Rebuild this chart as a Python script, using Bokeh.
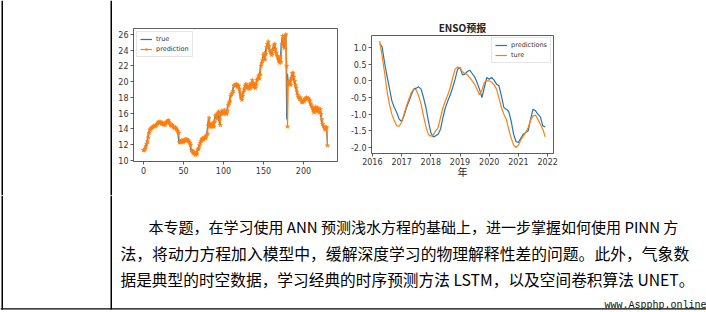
from bokeh.plotting import figure
from bokeh.models import Range1d, Legend, LegendItem, FixedTicker, PrintfTickFormatter
from bokeh.layouts import column, row
from bokeh.core.properties import value
from bokeh.embed import file_html
from bokeh.resources import INLINE

# ---------------- data: left chart (true vs prediction) ----------------
true_vals = [
    11.2, 11.4, 11.7, 12.0, 12.3, 12.8, 13.4, 13.8, 13.9, 14.0,
    14.1, 14.2, 14.3, 14.2, 14.3, 14.4, 14.5, 14.7, 14.8, 14.7,
    14.8, 14.7, 14.6, 14.7, 14.5, 14.6, 14.4, 14.6, 14.8, 14.9,
    15.0, 14.9, 14.7, 14.5, 14.4, 14.5, 14.3, 14.2, 14.1, 14.2,
    14.0, 13.9, 13.7, 13.5, 12.4, 12.3, 12.4, 12.5, 12.4, 12.3,
    12.5, 12.6, 12.5, 12.7, 12.6, 12.5, 12.4, 12.2, 12.0, 11.4,
    11.2, 11.0, 11.1, 10.9, 10.8, 10.9, 10.8, 11.3, 11.4, 11.8,
    12.1, 12.4, 12.6, 12.7, 12.6, 12.8, 12.9, 12.8, 13.1, 13.3,
    14.2, 15.2, 14.8, 14.4, 14.3, 14.6, 14.5, 14.3, 14.8, 15.5,
    15.7, 15.4, 15.9, 16.1, 15.3, 14.6, 15.8, 16.2, 16.0, 15.9,
    16.3, 16.1, 16.0, 15.9, 16.2, 16.9, 17.2, 17.4, 18.0, 18.3,
    18.5, 18.7, 19.3, 19.5, 19.4, 19.6, 19.5, 19.3, 19.4, 19.1,
    18.6, 18.0, 17.8, 18.1, 18.6, 18.9, 19.3, 19.5, 19.2, 19.4,
    19.3, 19.1, 19.5, 19.2, 19.6, 20.0, 19.8, 19.4, 19.6, 19.2,
    19.5, 20.0, 20.3, 20.6, 20.4, 20.8, 21.8, 22.3, 22.6, 23.2,
    23.5, 22.9, 23.4, 24.2, 24.6, 24.9, 24.5, 24.1, 23.8, 23.5,
    23.6, 24.0, 24.4, 24.6, 24.2, 23.8, 23.4, 23.2, 22.8, 22.5,
    23.0, 22.6, 24.5, 25.5, 25.2, 24.4, 25.6, 25.9, 26.0, 15.2,
    21.0, 19.8, 20.1, 19.7, 20.3, 20.9, 21.0, 20.6, 20.2, 19.7,
    19.3, 18.8, 18.4, 18.1, 17.9, 18.0, 17.7, 17.5, 17.4, 17.6,
    17.5, 17.7, 17.8, 17.9, 17.8, 17.9, 17.7, 17.6, 17.3, 17.1,
    16.8, 16.5, 16.2, 16.4, 16.7, 16.5, 16.3, 16.6, 16.4, 16.2,
    16.4, 16.0, 15.4, 14.8, 14.5, 14.2, 14.0, 14.1, 13.9, 14.1,
    11.9,
]
pred_vals = [
    11.3, 11.3, 11.5, 11.8, 12.1, 12.4, 12.9, 13.5, 13.9, 14.0,
    14.1, 14.2, 14.3, 14.4, 14.3, 14.4, 14.5, 14.6, 14.8, 14.9,
    14.8, 14.9, 14.8, 14.6, 14.8, 14.6, 14.7, 14.5, 14.7, 14.9,
    15.0, 15.1, 14.9, 14.7, 14.5, 14.4, 14.5, 14.3, 14.2, 14.1,
    14.2, 14.0, 13.9, 13.7, 13.5, 12.3, 12.3, 12.4, 12.6, 12.4,
    12.3, 12.5, 12.7, 12.5, 12.7, 12.6, 12.5, 12.4, 12.2, 12.0,
    11.3, 11.2, 10.9, 11.1, 10.9, 10.7, 10.9, 10.8, 11.4, 11.5,
    11.9, 12.2, 12.5, 12.7, 12.8, 12.6, 12.9, 13.0, 12.8, 13.2,
    13.4, 14.4, 15.4, 14.7, 14.3, 14.3, 14.7, 14.4, 14.3, 14.9,
    15.7, 15.8, 15.3, 16.0, 16.2, 15.2, 14.5, 15.9, 16.3, 16.0,
    15.9, 16.4, 16.1, 16.0, 15.9, 16.3, 17.0, 17.3, 17.5, 18.2,
    18.4, 18.6, 18.8, 19.5, 19.6, 19.5, 19.7, 19.6, 19.3, 19.5,
    19.1, 18.5, 17.9, 17.7, 18.2, 18.7, 19.0, 19.5, 19.7, 19.2,
    19.5, 19.3, 19.1, 19.7, 19.2, 19.7, 20.2, 19.8, 19.3, 19.7,
    19.2, 19.6, 20.2, 20.4, 20.8, 20.4, 20.9, 22.0, 22.4, 22.7,
    23.4, 23.6, 22.8, 23.5, 24.4, 24.8, 25.1, 24.5, 24.0, 23.8,
    23.4, 23.6, 24.1, 24.6, 24.8, 24.2, 23.7, 23.3, 23.1, 22.7,
    22.4, 23.2, 22.5, 24.8, 25.8, 25.2, 24.3, 25.8, 26.0, 22.0,
    14.3, 20.0, 19.7, 20.1, 19.6, 20.4, 21.1, 21.1, 20.6, 20.1,
    19.6, 19.2, 18.7, 18.3, 18.0, 17.8, 18.0, 17.6, 17.4, 17.4,
    17.7, 17.5, 17.8, 17.9, 18.0, 17.8, 17.9, 17.7, 17.6, 17.2,
    17.0, 16.7, 16.4, 16.1, 16.5, 16.8, 16.5, 16.2, 16.7, 16.4,
    16.1, 16.5, 15.9, 15.2, 14.6, 14.4, 14.1, 13.9, 14.2, 14.2,
    11.9,
]
step_index = list(range(len(true_vals)))
left_xticks = [0, 50, 100, 150, 200]
left_yticks = [10, 12, 14, 16, 18, 20, 22, 24, 26]

# ---------------- data: right chart (ENSO forecast, monthly) ----------------
enso_start_year = 2016
enso_start_month = 4
enso_predictions = [
    1.12, 1.02, 0.55, 0.15, -0.22, -0.60, -0.80, -0.95, -1.15,                 # 2016 Apr-Dec
    -1.22, -1.05, -0.80, -0.62, -0.42, -0.25, -0.22, -0.18, -0.25, -0.50, -0.80, -1.20,  # 2017
    -1.55, -1.68, -1.65, -1.60, -1.45, -1.10, -0.80, -0.60, -0.42, -0.20, 0.05, 0.35,    # 2018
    0.40, 0.18, 0.20, 0.28, 0.32, 0.22, 0.12, -0.05, -0.25, -0.50, -0.20, 0.10,          # 2019
    0.05, 0.10, 0.02, -0.10, -0.15, -0.45, -0.80, -0.85, -0.92, -1.20, -1.60, -1.82,     # 2020
    -1.85, -1.72, -1.60, -1.55, -1.50, -1.15, -0.85, -0.90, -1.00, -1.08, -1.35, -1.38,  # 2021
]
enso_ture = [
    1.20, 0.75, 0.25, -0.30, -0.70, -1.00, -1.20, -1.35, -1.36,                 # 2016 Apr-Dec
    -1.25, -1.00, -0.75, -0.55, -0.35, -0.25, -0.27, -0.45, -0.70, -1.05, -1.38, -1.60,  # 2017
    -1.66, -1.62, -1.50, -1.40, -1.10, -0.80, -0.60, -0.42, -0.20, 0.10, 0.35, 0.42,     # 2018
    0.38, 0.27, 0.22, 0.18, 0.10, 0.00, -0.10, -0.25, -0.42, -0.28, -0.05, 0.00,         # 2019
    0.00, -0.04, -0.12, -0.25, -0.52, -0.80, -1.00, -1.15, -1.45, -1.72, -1.92, -2.00,   # 2020
    -1.93, -1.77, -1.65, -1.55, -1.40, -1.18, -1.05, -1.03, -1.15, -1.30, -1.45, -1.68,  # 2021
]
enso_time = [enso_start_year + (enso_start_month - 1 + i) / 12.0 for i in range(len(enso_ture))]
right_xticks = [2016, 2017, 2018, 2019, 2020, 2021, 2022]
right_yticks = [-2.0, -1.5, -1.0, -0.5, 0.0, 0.5, 1.0]

# ---------------- page text ----------------
para_lines = [
    "本专题，在学习使用 ANN 预测浅水方程的基础上，进一步掌握如何使用 PINN 方",
    "法，将动力方程加入模型中，缓解深度学习的物理解释性差的问题。此外，气象数",
    "据是典型的时空数据，学习经典的时序预测方法 LSTM，以及空间卷积算法 UNET。",
]
watermark = "www.Aspphp.online"

BLUE = "#1f77b4"
ORANGE = "#ff7f0e"
AX = "#333333"


def style_axes(p):
    p.outline_line_color = AX
    p.outline_line_width = 0.8
    p.grid.visible = False
    for ax in p.axis:
        ax.axis_line_color = None
        ax.major_tick_line_color = AX
        ax.major_tick_line_width = 0.8
        ax.major_tick_out = 3
        ax.major_tick_in = 0
        ax.minor_tick_line_color = None
        ax.major_label_text_font = "DejaVu Sans"
        ax.major_label_text_font_size = "8px"
        ax.major_label_text_color = AX
        ax.major_label_standoff = 2


def style_legend(leg):
    leg.label_text_font = "DejaVu Sans"
    leg.label_text_font_size = "6.5px"
    leg.label_text_color = AX
    leg.label_height = 6
    leg.glyph_height = 6
    leg.glyph_width = 12
    leg.label_standoff = 4
    leg.spacing = 2
    leg.padding = 3
    leg.margin = 3
    leg.border_line_color = "#cccccc"
    leg.border_line_width = 0.8
    leg.background_fill_alpha = 0.85


def blank(width, height, y0, y1):
    f = figure(width=width, height=height, x_range=Range1d(0, width), y_range=Range1d(y0, y1),
               output_backend="svg", toolbar_location=None, min_border=0,
               x_axis_location=None, y_axis_location=None)
    f.outline_line_color = None
    f.grid.visible = False
    return f


# ---------------- left border strip (top part) ----------------
strip = blank(112, 195, 195, 0)
strip.quad(left=[1, 110], right=[2.5, 111.5], top=[0, 0], bottom=[195, 195],
           fill_color="black", line_color=None)

# ---------------- left chart ----------------
p1 = figure(width=233, height=195, x_range=Range1d(-12.5, 242.5), y_range=Range1d(9.87, 26.76),
            output_backend="svg", toolbar_location=None,
            min_border_left=21, min_border_right=8, min_border_top=28, min_border_bottom=34)
r_true = p1.line(step_index, true_vals, line_color=BLUE, line_width=1.2)
r_pred = p1.line(step_index, pred_vals, line_color=ORANGE, line_width=1.2)
r_star = p1.scatter(step_index, pred_vals, marker="star", size=4.5, fill_color=ORANGE,
                    line_color=ORANGE, line_width=0.5)
p1.xaxis.ticker = FixedTicker(ticks=left_xticks)
p1.yaxis.ticker = FixedTicker(ticks=left_yticks)
style_axes(p1)
leg1 = Legend(items=[LegendItem(label="true", renderers=[r_true]),
                     LegendItem(label="prediction", renderers=[r_pred, r_star])],
              location="top_left")
style_legend(leg1)
p1.add_layout(leg1)

# ---------------- right chart ----------------
p2 = figure(width=361, height=195, x_range=Range1d(2015.97, 2022.2), y_range=Range1d(-2.18, 1.36),
            output_backend="svg", toolbar_location=None, title="ENSO预报",
            min_border_left=26, min_border_right=153, min_border_top=35, min_border_bottom=42)
r_p = p2.line(enso_time, enso_predictions, line_color=BLUE, line_width=1.2)
r_t = p2.line(enso_time, enso_ture, line_color=ORANGE, line_width=1.2)
p2.xaxis.ticker = FixedTicker(ticks=right_xticks)
p2.yaxis.ticker = FixedTicker(ticks=right_yticks)
p2.xaxis.formatter = PrintfTickFormatter(format="%d")
p2.yaxis.formatter = PrintfTickFormatter(format="%.1f")
style_axes(p2)
p2.xaxis.major_label_standoff = 1
p2.xaxis.axis_label = "年"
p2.xaxis.axis_label_text_font = "Noto Sans CJK SC"
p2.xaxis.axis_label_text_font_size = "10px"
p2.xaxis.axis_label_text_font_style = "normal"
p2.xaxis.axis_label_text_color = "#222222"
p2.xaxis.axis_label_standoff = -4
p2.title.text_font = "Noto Sans CJK SC"
p2.title.text_font_size = "10px"
p2.title.text_font_style = "bold"
p2.title.text_color = "#222222"
p2.title.align = "center"
p2.title.standoff = 2
leg2 = Legend(items=[LegendItem(label="predictions", renderers=[r_p]),
                     LegendItem(label="ture", renderers=[r_t])],
              location="top_right")
style_legend(leg2)
leg2.margin = 2
p2.add_layout(leg2)

# ---------------- text block ----------------
pt = blank(706, 117, 312, 195)
pt.quad(left=[1, 110, 0], right=[2.5, 111.5, 706], top=[195, 195, 307.8], bottom=[309, 309, 309],
        fill_color="black", line_color=None)
line_x = [148, 120, 120]
line_y = [226, 253, 279]
line_size = ["15px", "15.8px", "15.7px"]
for i in range(3):
    pt.text(x=[line_x[i]], y=[line_y[i]], text=[para_lines[i]],
            text_font=value("Noto Sans CJK SC"), text_font_size=line_size[i],
            text_baseline="middle", text_align="left", text_color="black")
pt.text(x=[706], y=[305], text=[watermark], text_font=value("Liberation Mono"),
        text_font_size="10px", text_baseline="middle", text_align="right", text_color="#111111")

layout = column(row(column(strip), column(p1), column(p2)), pt)
open("out.html", "w").write(file_html(layout, INLINE))
